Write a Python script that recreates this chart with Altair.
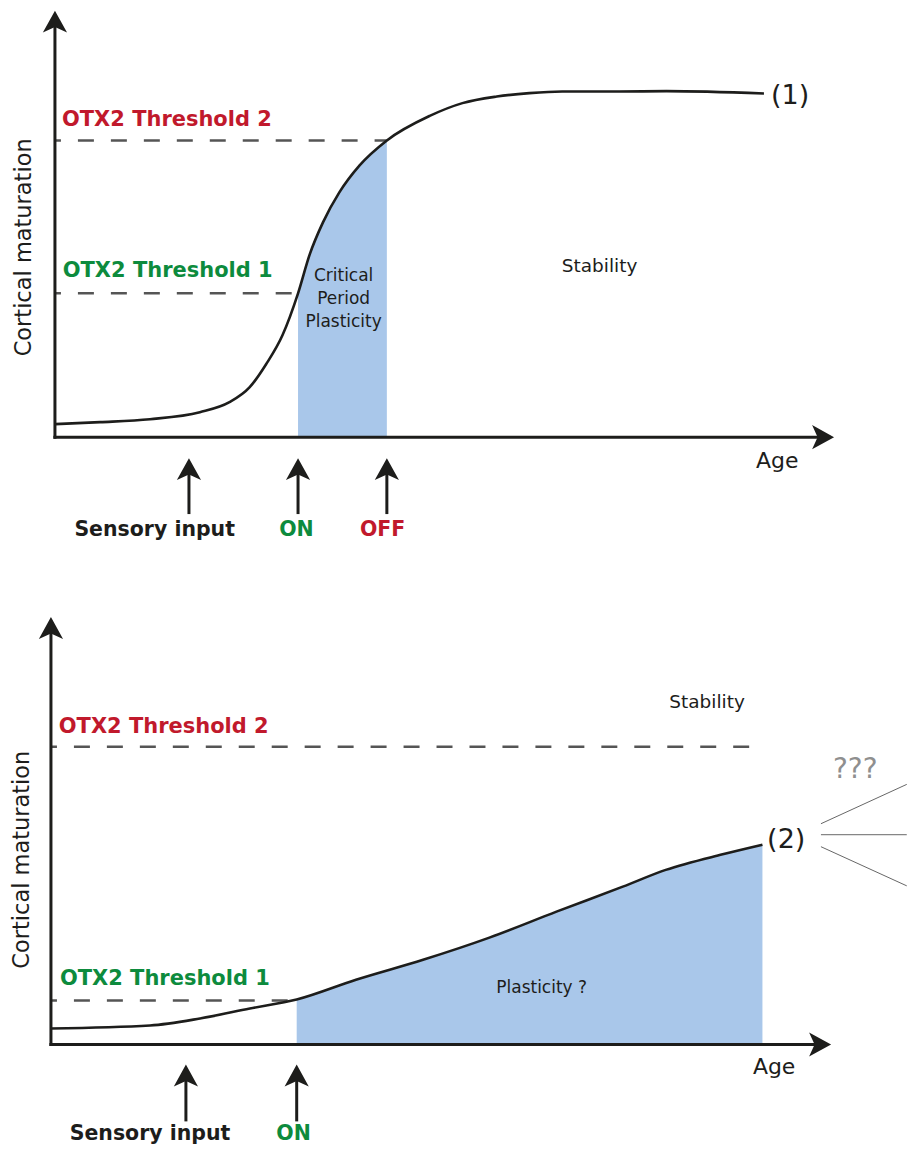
import altair as alt
import pandas as pd

# ---------------- values ----------------
# Units: age 0 = vertical axis, age 100 = tip of the Age arrow;
#        maturation 0 = Age axis
# Panel 1 : normal development
p1_age = [0.0, 5.8, 12.2, 18.6, 22.4, 25.0, 27.1, 29.2, 31.2, 32.7, 34.4, 36.5,
          39.1, 42.6, 48.1, 52.3, 56.7, 60.9, 65.1, 72.4, 78.5, 91.0]
p1_mat = [3.25, 3.75, 4.5, 6.25, 8.75, 12.5, 18.25, 25.5, 36.0, 45.75, 53.75, 61.25,
          68.0, 74.25, 80.4, 83.6, 85.25, 86.1, 86.5, 86.5, 86.6, 86.0]
p1_threshold1 = 36.0
p1_threshold2 = 74.25
p1_on = 31.2
p1_off = 42.6
p1_input = 17.2

# Panel 2 : altered development
p2_age = [0.0, 12.7, 19.1, 25.5, 31.5, 39.1, 47.7, 56.2, 64.8, 73.3, 78.8, 86.1, 91.2]
p2_mat = [4.0, 4.75, 6.5, 9.0, 11.25, 16.2, 21.2, 26.75, 33.25, 39.5, 43.7, 47.6, 50.0]
p2_threshold1 = 11.0
p2_threshold2 = 74.5
p2_on = 31.5
p2_input = 17.3
p2_end = 91.2

RED = "#c1192c"
GREEN = "#0d8b3d"
INK = "#1d1d1b"
BLUE = "#a9c7ea"
DASH = "#555555"
FONT = "DejaVu Sans"
ARROW = "M0,0L1.1,2L0,1.5L-1.1,2Z"   # arrow head, tip at the symbol origin


def build_panel(age, mat, t1, t1_end, t2, t2_end, shade_from, shade_to,
                xdom, ydom, height, ytip, marks_below, texts, fans=None):
    X = alt.X("age:Q", scale=alt.Scale(domain=xdom, nice=False, zero=False), axis=None)
    Y = alt.Y("m:Q", scale=alt.Scale(domain=ydom, nice=False, zero=False), axis=None)

    curve = pd.DataFrame({"age": age, "m": mat})
    shade = curve[(curve.age >= shade_from - 1e-9) & (curve.age <= shade_to + 1e-9)].copy()
    shade["base"] = 0.0

    layers = []
    layers.append(alt.Chart(shade).mark_area(interpolate="monotone", color=BLUE, opacity=1)
                  .encode(x=X, y=Y, y2=alt.Y2("base:Q")))
    thr = pd.DataFrame({"age": [0.0, 0.0], "age2": [t1_end, t2_end], "m": [t1, t2]})
    layers.append(alt.Chart(thr).mark_rule(color=DASH, strokeWidth=2.5,
                                           strokeDash=[16, 17], strokeDashOffset=10)
                  .encode(x=X, x2=alt.X2("age2:Q"), y=Y))
    layers.append(alt.Chart(curve).mark_line(interpolate="monotone", color=INK, strokeWidth=2.6)
                  .encode(x=X, y=Y))

    # axes with arrow heads
    axes = pd.DataFrame({"age": [0.0, -0.2], "age2": [0.0, 98.5],
                         "m": [-0.4, 0.0], "m2": [ytip - 3, 0.0]})
    layers.append(alt.Chart(axes).mark_rule(color=INK, strokeWidth=3)
                  .encode(x=X, x2=alt.X2("age2:Q"), y=Y, y2=alt.Y2("m2:Q")))
    layers.append(alt.Chart(pd.DataFrame({"age": [0.0], "m": [ytip]}))
                  .mark_point(shape=ARROW, filled=True, size=484, color=INK, opacity=1, strokeWidth=0)
                  .encode(x=X, y=Y))
    layers.append(alt.Chart(pd.DataFrame({"age": [100.0], "m": [0.0]}))
                  .mark_point(shape=ARROW, filled=True, size=484, angle=90, color=INK,
                              opacity=1, strokeWidth=0)
                  .encode(x=X, y=Y))

    # arrows under the age axis
    mb = pd.DataFrame(marks_below)
    shafts = mb.assign(m=-19.25, m2=mb["tip"] - 3)
    layers.append(alt.Chart(shafts).mark_rule(color=INK, strokeWidth=3)
                  .encode(x=X, y=Y, y2=alt.Y2("m2:Q")))
    heads = mb.assign(m=mb["tip"])
    layers.append(alt.Chart(heads).mark_point(shape=ARROW, filled=True, size=484, color=INK,
                                              opacity=1, strokeWidth=0)
                  .encode(x=X, y=Y))
    for row in marks_below:
        layers.append(alt.Chart(pd.DataFrame([{"age": row["lab_age"], "m": row["lab_m"],
                                               "text": row["label"]}]))
                      .mark_text(align="center", baseline="middle", font=FONT, fontSize=20.5,
                                 fontWeight="bold", color=row["color"])
                      .encode(x=X, y=Y, text="text:N"))

    if fans is not None:
        layers.append(alt.Chart(pd.DataFrame(fans)).mark_rule(color="#666666", strokeWidth=1)
                      .encode(x=X, x2=alt.X2("age2:Q"), y=Y, y2=alt.Y2("m2:Q")))

    for t in texts:
        kw = dict(align=t.get("align", "left"), baseline="middle", font=FONT,
                  fontSize=t["size"], fontWeight=t.get("weight", "normal"),
                  color=t.get("color", INK))
        if "angle" in t:
            kw["angle"] = t["angle"]
        layers.append(alt.Chart(pd.DataFrame([{"age": t["age"], "m": t["m"], "text": t["text"]}]))
                      .mark_text(**kw).encode(x=X, y=Y, text="text:N"))

    return alt.layer(*layers).properties(width=900, height=height)


panel1 = build_panel(
    p1_age, p1_mat, p1_threshold1, p1_on, p1_threshold2, p1_off, p1_on, p1_off,
    xdom=[-6.0256, 109.359], ydom=[-36.25, 107.25], height=574, ytip=106.75,
    marks_below=[
        {"age": p1_input, "tip": -5.25, "label": "Sensory input", "color": INK, "lab_age": 12.8, "lab_m": -23.25},
        {"age": p1_on, "tip": -5.25, "label": "ON", "color": GREEN, "lab_age": 31.0, "lab_m": -23.25},
        {"age": p1_off, "tip": -5.25, "label": "OFF", "color": RED, "lab_age": 42.05, "lab_m": -23.25},
    ],
    texts=[
        {"text": "OTX2 Threshold 2", "age": 0.9, "m": 79.5, "size": 21, "weight": "bold", "color": RED},
        {"text": "OTX2 Threshold 1", "age": 1.0, "m": 41.5, "size": 21, "weight": "bold", "color": GREEN},
        {"text": "Critical", "age": 37.05, "m": 40.25, "size": 17, "align": "center"},
        {"text": "Period", "age": 37.05, "m": 34.5, "size": 17, "align": "center"},
        {"text": "Plasticity", "age": 37.05, "m": 28.75, "size": 17, "align": "center"},
        {"text": "Stability", "age": 69.9, "m": 42.75, "size": 18.5, "align": "center"},
        {"text": "(1)", "age": 91.9, "m": 85.5, "size": 27},
        {"text": "Age", "age": 92.7, "m": -6.0, "size": 22, "align": "center"},
        {"text": "Cortical maturation", "age": -3.97, "m": 47.5, "size": 22.5, "align": "center", "angle": 270},
    ],
)

panel2 = build_panel(
    p2_age, p2_mat, p2_threshold1, p2_on, p2_threshold2, p2_end, p2_on, p2_end,
    xdom=[-5.5058, 109.7311], ydom=[-25.0, 115.75], height=563, ytip=107.0,
    marks_below=[
        {"age": p2_input, "tip": -5.0, "label": "Sensory input", "color": INK, "lab_age": 12.7, "lab_m": -22.4},
        {"age": p2_on, "tip": -5.0, "label": "ON", "color": GREEN, "lab_age": 31.1, "lab_m": -22.4},
    ],
    texts=[
        {"text": "OTX2 Threshold 2", "age": 1.0, "m": 79.5, "size": 21, "weight": "bold", "color": RED},
        {"text": "OTX2 Threshold 1", "age": 1.15, "m": 16.5, "size": 21, "weight": "bold", "color": GREEN},
        {"text": "Stability", "age": 84.1, "m": 85.75, "size": 18.5, "align": "center"},
        {"text": "Plasticity ?", "age": 62.9, "m": 14.25, "size": 17, "align": "center"},
        {"text": "(2)", "age": 91.8, "m": 51.25, "size": 27},
        {"text": "???", "age": 103.1, "m": 68.75, "size": 28, "align": "center", "color": "#8f8f8f"},
        {"text": "Age", "age": 92.7, "m": -5.75, "size": 22, "align": "center"},
        {"text": "Cortical maturation", "age": -3.71, "m": 46.25, "size": 22.5, "align": "center", "angle": 270},
    ],
    fans=[
        {"age": 98.7, "m": 55.25, "age2": 109.7, "m2": 65.1},
        {"age": 98.7, "m": 52.5, "age2": 109.7, "m2": 52.5},
        {"age": 98.7, "m": 49.5, "age2": 109.7, "m2": 39.7},
    ],
)

chart = (
    alt.vconcat(panel1, panel2, spacing=0, padding=0, background="white")
    .resolve_scale(x="independent", y="independent")
    .configure_view(strokeWidth=0, stroke="transparent")
)

chart.save("out.html", embed_options={"renderer": "svg", "actions": False})
